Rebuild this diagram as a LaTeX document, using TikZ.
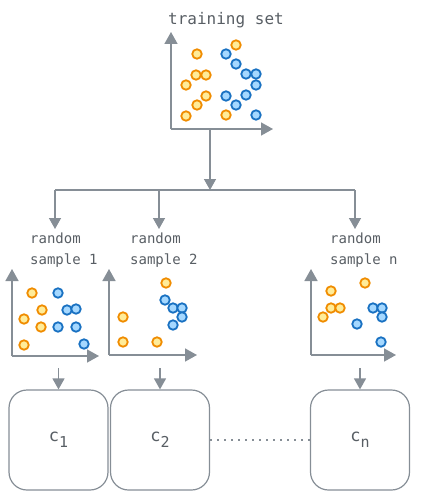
\documentclass[tikz,border=0pt]{standalone}
\usepackage{fontspec}
\setmonofont{DejaVu Sans Mono}
\usepackage{tikz}
\usetikzlibrary{arrows.meta,positioning}
\definecolor{stroke}{RGB}{134,142,150}
\definecolor{ink}{RGB}{88,94,100}
\definecolor{orngline}{RGB}{240,140,0}
\definecolor{orngfill}{RGB}{255,236,153}
\definecolor{bluline}{RGB}{25,113,194}
\definecolor{blufill}{RGB}{165,216,255}

\begin{document}
\begin{tikzpicture}[x=1pt,y=-1pt]
\tikzset{axis/.style = {draw=stroke,line width=1.6pt,-{Triangle[width=13pt,length=12pt]}}}
\tikzset{edge/.style = {draw=stroke,line width=1.4pt,-{Triangle[width=12pt,length=11pt]}}}
\tikzset{orng/.style = {shape=circle,draw=orngline,fill=orngfill,line width=1.8pt,inner sep=0pt,minimum size=9.5pt}}
\tikzset{blu/.style = {shape=circle,draw=bluline,fill=blufill,line width=1.8pt,inner sep=0pt,minimum size=9.5pt}}
\tikzset{caption/.style = {text=ink,font=\ttfamily\fontsize{14}{21}\selectfont,align=left,inner sep=0pt}}
\tikzset{model/.style = {draw=stroke,line width=1.2pt,rounded corners=18pt,minimum width=99pt,minimum height=100pt,text=ink,font=\ttfamily\fontsize{17}{20}\selectfont}}
\newcommand{\sub}[1]{\raisebox{-6pt}{\fontsize{15}{18}\selectfont #1}}
\useasboundingbox (0,0) rectangle (420,500);
% training set
\node[caption,font=\ttfamily\fontsize{16}{20}\selectfont] (title) at (226,20) {training set};
\coordinate (o0) at (171,129);
\draw[axis] (o0) -- (171,32);
\draw[axis] (o0) -- (273,129);
\foreach \p [count=\i] in {(236,45),(197,54),(196,75),(206,75),(186,85),(206,96),(197,105),(186,116),(226,115)}
  \node[orng] (t-o\i) at \p {};
\foreach \p [count=\i] in {(226,54),(236,64),(246,74),(256,74),(256,85),(226,96),(246,95),(236,105),(256,115)}
  \node[blu] (t-b\i) at \p {};
% split
\coordinate (top) at (210,130);
\coordinate (split) at (210,190);
\coordinate (b1) at (55,190);
\coordinate (b2) at (159,190);
\coordinate (bn) at (355,190);
\draw[edge] (top) -- (split);
\draw[draw=stroke,line width=1.4pt] (b1) -- (bn);
\draw[edge] (b1) -- (55,229);
\draw[edge] (b2) -- (159,229);
\draw[edge] (bn) -- (355,229);
% random samples
\node[caption,anchor=west] (lab1) at (30,250) {random\\sample 1};
\node[caption,anchor=west] (lab2) at (130,250) {random\\sample 2};
\node[caption,anchor=west] (labn) at (330,250) {random\\sample n};
\coordinate (o1) at (12,356);
\draw[axis] (o1) -- (12,269);
\draw[axis] (o1) -- (99,356);
\foreach \p [count=\i] in {(32,293),(42,310),(24,319),(41,327),(24,345)}
  \node[orng] (s1-o\i) at \p {};
\foreach \p [count=\i] in {(58,293),(67,310),(76,309),(58,327),(76,327),(84,344)}
  \node[blu] (s1-b\i) at \p {};
\coordinate (o2) at (109,355);
\draw[axis] (o2) -- (109,269);
\draw[axis] (o2) -- (197,355);
\foreach \p [count=\i] in {(166,283),(123,317),(123,342),(157,342)}
  \node[orng] (s2-o\i) at \p {};
\foreach \p [count=\i] in {(165,300),(173,308),(182,308),(182,317),(173,325)}
  \node[blu] (s2-b\i) at \p {};
\coordinate (on) at (311,355);
\draw[axis] (on) -- (311,269);
\draw[axis] (on) -- (396,355);
\foreach \p [count=\i] in {(365,283),(331,291),(331,308),(340,308),(323,317)}
  \node[orng] (sn-o\i) at \p {};
\foreach \p [count=\i] in {(373,308),(382,308),(382,317),(357,324),(381,342)}
  \node[blu] (sn-b\i) at \p {};
% models
\node[model] (c1) at (58.5,440) {c\sub{1}};
\node[model] (c2) at (160,440) {c\sub{2}};
\node[model] (cn) at (360,440) {c\sub{n}};
\coordinate (d1) at (58.5,368);
\coordinate (d2) at (160,368);
\coordinate (dn) at (360,368);
\draw[edge] (d1) -- (c1);
\draw[edge] (d2) -- (c2);
\draw[edge] (dn) -- (cn);
\draw[draw=stroke,line width=1.2pt,dash pattern=on 2pt off 5pt] (c2) -- (cn);
\end{tikzpicture}
\end{document}
